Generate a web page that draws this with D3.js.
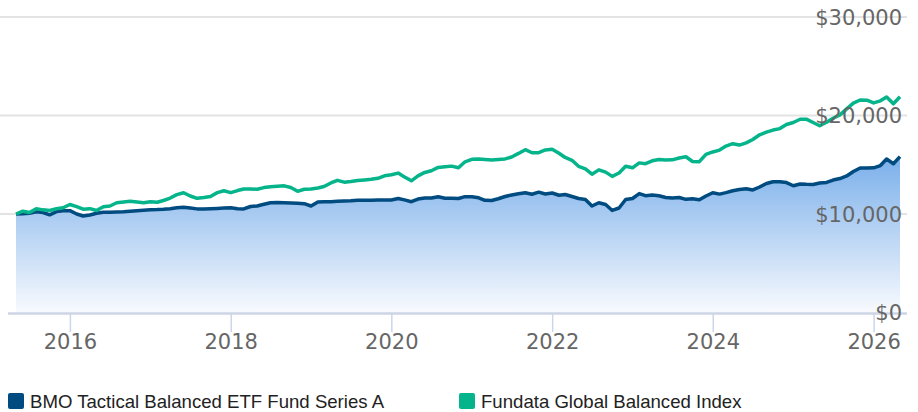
<!DOCTYPE html>
<html>
<head>
<meta charset="utf-8">
<script src="https://cdn.jsdelivr.net/npm/d3@7"></script>
<style>
  html, body { margin: 0; padding: 0; background: #fff; }
  svg { display: block; }
</style>
</head>
<body>
<svg id="chart" width="918" height="412"></svg>
<script>
// growth of $10,000, monthly from May 2015 to May 2026
const startMonth = new Date(2015, 4, 1);

const bmoValues = [
  10000, 10030, 10070, 10220, 10150, 9920, 10240, 10340, 10340, 10000, 9800, 9900,
  10070, 10170, 10170, 10200, 10230, 10280, 10340, 10390, 10440, 10450, 10480, 10540,
  10630, 10680, 10610, 10520, 10520, 10540, 10570, 10600, 10640, 10540, 10510, 10760,
  10810, 10990, 11150, 11170, 11150, 11120, 11100, 11050, 10810, 11220, 11250, 11250,
  11290, 11320, 11350, 11400, 11400, 11390, 11410, 11420, 11420, 11580, 11430, 11250,
  11520, 11620, 11620, 11750, 11600, 11590, 11570, 11760, 11760, 11640, 11390, 11370,
  11550, 11780, 11930, 12050, 12150, 12010, 12220, 12030, 12130, 11900, 11980, 11780,
  11570, 11480, 10810, 11140, 10960, 10360, 10610, 11470, 11570, 12070, 11860, 11930,
  11850, 11680, 11620, 11680, 11490, 11540, 11440, 11830, 12160, 12020, 12170, 12360,
  12490, 12570, 12440, 12740, 13100, 13280, 13270, 13190, 12870, 13050, 13010, 13000,
  13150, 13200, 13450, 13600, 13860, 14310, 14670, 14670, 14690, 14920, 15580, 15100,
  15820
];

const indexValues = [
  10000, 10280, 10150, 10540, 10420, 10350, 10530, 10630, 10960, 10750, 10490, 10540,
  10350, 10730, 10810, 11140, 11220, 11290, 11220, 11150, 11250, 11190, 11370, 11620,
  11970, 12160, 11830, 11590, 11670, 11780, 12170, 12360, 12170, 12380, 12540, 12540,
  12520, 12680, 12770, 12810, 12860, 12690, 12300, 12510, 12540, 12640, 12790, 13150,
  13420, 13230, 13300, 13390, 13460, 13530, 13620, 13880, 13990, 14150, 13760, 13370,
  13870, 14220, 14390, 14730, 14800, 14860, 14700, 15300, 15550, 15580, 15540, 15490,
  15540, 15590, 15790, 16150, 16530, 16220, 16230, 16500, 16580, 16170, 15740, 15450,
  14840, 14590, 14040, 14480, 14250, 13820, 14160, 14850, 14690, 15190, 15110, 15400,
  15540, 15480, 15500, 15680, 15810, 15330, 15310, 16060, 16300, 16490, 16900, 17140,
  17000, 17220, 17570, 18040, 18310, 18520, 18670, 19090, 19290, 19620, 19630, 19290,
  18960, 19310, 19720, 20060, 20670, 21250, 21570, 21560, 21280, 21490, 21880, 21190,
  21910
];

const seriesNames = ["BMO Tactical Balanced ETF Fund Series A", "Fundata Global Balanced Index"];
const seriesColors = ["#004b80", "#05b48a"];
const yTicks = [0, 10000, 20000, 30000];

const svg = d3.select("#chart");

const bmo = bmoValues.map((v, i) => ({ date: d3.timeMonth.offset(startMonth, i), value: v }));
const idx = indexValues.map((v, i) => ({ date: d3.timeMonth.offset(startMonth, i), value: v }));

const x = d3.scaleTime()
    .domain([bmo[0].date, bmo[bmo.length - 1].date])
    .range([16, 900]);

const y = d3.scaleLinear()
    .domain([0, 30000])
    .range([312.5, 17]);

// gradient under the fund line
const grad = svg.append("defs").append("linearGradient")
    .attr("id", "areaFill")
    .attr("gradientUnits", "userSpaceOnUse")
    .attr("x1", 0).attr("x2", 0)
    .attr("y1", y(d3.max(bmoValues))).attr("y2", y(0));
grad.append("stop").attr("offset", "0%").attr("stop-color", "#7aafea");
grad.append("stop").attr("offset", "100%").attr("stop-color", "#f8fafe");

// horizontal grid
svg.append("g")
    .selectAll("line")
    .data(yTicks.slice(1))
    .enter()
    .append("line")
    .attr("x1", 0)
    .attr("x2", 907)
    .attr("y1", d => y(d))
    .attr("y2", d => y(d))
    .attr("stroke", "#e3e3e3")
    .attr("stroke-width", 2);

// area + lines
svg.append("path")
    .datum(bmo)
    .attr("fill", "url(#areaFill)")
    .attr("d", d3.area().x(d => x(d.date)).y0(y(0)).y1(d => y(d.value)));

const line = d3.line().x(d => x(d.date)).y(d => y(d.value));

svg.append("path")
    .datum(bmo)
    .attr("fill", "none")
    .attr("stroke", seriesColors[0])
    .attr("stroke-width", 3.5)
    .attr("stroke-linejoin", "round")
    .attr("d", line);

svg.append("path")
    .datum(idx)
    .attr("fill", "none")
    .attr("stroke", seriesColors[1])
    .attr("stroke-width", 3.5)
    .attr("stroke-linejoin", "round")
    .attr("d", line);

// x axis
const xAxis = svg.append("g")
    .attr("transform", "translate(0," + 313 + ")")
    .call(d3.axisBottom(x)
        .ticks(d3.timeYear.every(2))
        .tickFormat(d3.timeFormat("%Y"))
        .tickSize(19)
        .tickSizeOuter(0)
        .tickPadding(2));
xAxis.select(".domain").remove();
xAxis.selectAll(".tick line")
    .attr("stroke", "#ccd6eb")
    .attr("stroke-width", 1.5);
xAxis.selectAll(".tick text")
    .attr("fill", "#666")
    .attr("font-family", "DejaVu Sans")
    .attr("font-size", 21);

svg.append("line")
    .attr("x1", 8)
    .attr("x2", 907)
    .attr("y1", 313.5)
    .attr("y2", 313.5)
    .attr("stroke", "#cdd5e5")
    .attr("stroke-width", 2.5);

// y labels on the right, over the plot
svg.append("g")
    .selectAll("text")
    .data(yTicks)
    .enter()
    .append("text")
    .attr("x", 902)
    .attr("y", d => y(d))
    .attr("dy", "0.36em")
    .attr("text-anchor", "end")
    .attr("fill", "#666")
    .attr("font-family", "DejaVu Sans")
    .attr("font-size", 21)
    .text(d => "$" + d3.format(",")(d));

// legend
const legendX = [8, 459];
const legend = svg.append("g")
    .selectAll("g")
    .data(seriesNames)
    .enter()
    .append("g")
    .attr("transform", (d, i) => "translate(" + legendX[i] + ",393)");
legend.append("rect")
    .attr("width", 16)
    .attr("height", 16)
    .attr("rx", 2)
    .attr("fill", (d, i) => seriesColors[i]);
legend.append("text")
    .attr("x", 22)
    .attr("y", 15)
    .attr("fill", "#222")
    .attr("font-family", "Liberation Sans, Arial")
    .attr("font-size", 18.6)
    .text(d => d);
</script>
</body>
</html>
